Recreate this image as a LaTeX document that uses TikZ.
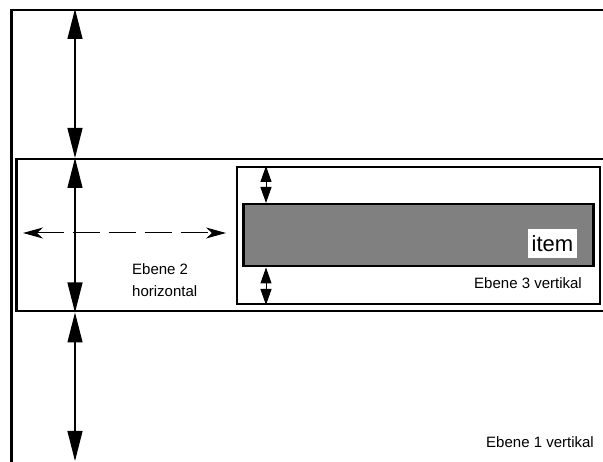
\documentclass[tikz,border=0pt]{standalone}
\usepackage{fontspec}
\setmainfont{Liberation Sans}
\usetikzlibrary{arrows.meta,positioning}

\begin{document}
\begin{tikzpicture}[x=1pt, y=1pt,
    ebene/.style={rectangle, draw, line width=2.5pt, inner sep=0pt, anchor=north west},
    bigarrow/.style={{Triangle[length=30pt,width=15pt]}-{Triangle[length=30pt,width=15pt]}, line width=1.2pt},
    smallarrow/.style={{Triangle[length=16pt,width=11pt]}-{Triangle[length=16pt,width=11pt]}, line width=1pt},
    dasharrow/.style={{Stealth[length=20pt,width=11pt,inset=6pt]}-{Stealth[length=20pt,width=11pt,inset=6pt]}, line width=1pt, dash pattern=on 27pt off 9pt},
    txt/.style={font=\fontsize{15}{22}\selectfont, inner sep=0pt}
]
    \useasboundingbox (0,0) rectangle (603,461);

    % boxes
    \node[ebene, minimum width=700pt, minimum height=500pt] (ebene1) at (10,452) {};
    \node[ebene, minimum width=700pt, minimum height=152pt] (ebene2) at (15,303) {};
    \node[ebene, line width=2pt, minimum width=363pt, minimum height=137pt] (ebene3) at (236,295) {};
    \node[ebene, fill=gray, minimum width=350pt, minimum height=62pt] (item) at (242,258) {};
    \node[fill=white, inner sep=0pt, minimum width=49pt, minimum height=29pt,
          font=\fontsize{22}{24}\selectfont] (itemtext) at (552.5,217.5) {item};

    % arrows
    \coordinate (spalte) at (75,0);
    \coordinate (klein) at (266,0);
    \coordinate (links) at (23,228);
    \coordinate (rechts) at (226,228);

    \draw[bigarrow] (ebene1.north -| spalte) -- (ebene2.north -| spalte);
    \draw[bigarrow] (ebene2.north -| spalte) -- (ebene2.south -| spalte);
    \draw[bigarrow] (ebene2.south -| spalte) -- (spalte);
    \draw[smallarrow] (ebene3.north -| klein) -- (item.north -| klein);
    \draw[smallarrow] (item.south -| klein) -- (ebene3.south -| klein);
    \draw[dasharrow] (links) -- (rechts);

    % labels
    \node[txt, align=left, anchor=north west] (e2text) at (132,198) {Ebene 2\\horizontal};
    \node[txt, anchor=base east] (e3text) at (582,172) {Ebene 3 vertikal};
    \node[txt, anchor=base east] (e1text) at (594,13) {Ebene 1 vertikal};
\end{tikzpicture}
\end{document}
